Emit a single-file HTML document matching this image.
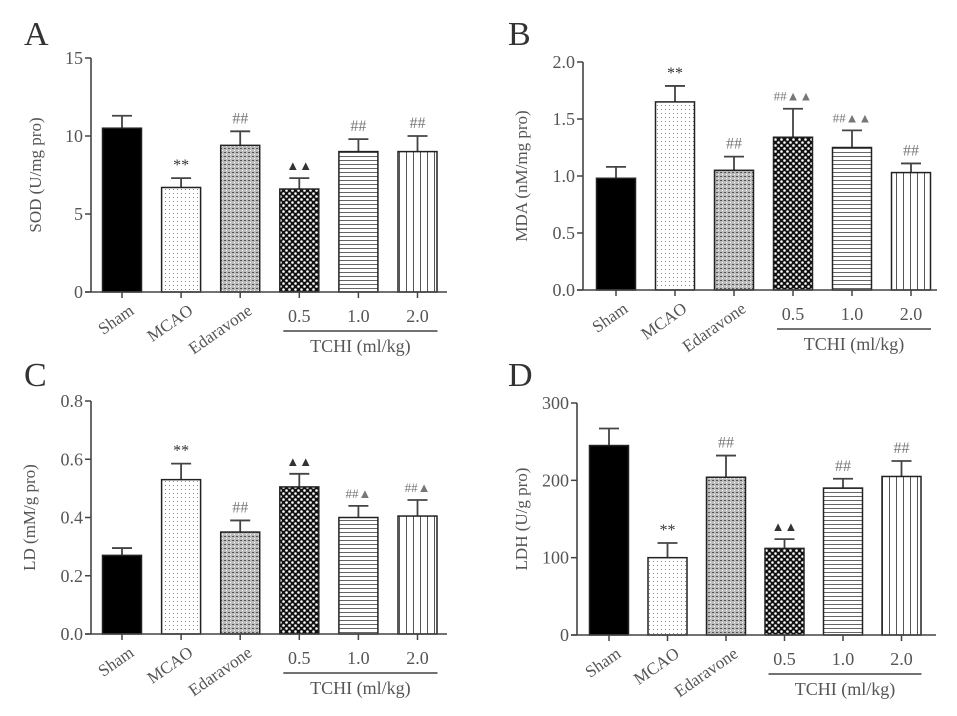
<!DOCTYPE html>
<html><head><meta charset="utf-8"><style>
html,body{margin:0;padding:0;background:#fff;}
svg{display:block;font-family:"Liberation Serif",serif;}
</style></head><body>
<svg id="fig" width="957" height="716" viewBox="0 0 957 716">
<defs>
<pattern id="pMCAO" width="4" height="4" patternUnits="userSpaceOnUse"><rect width="4" height="4" fill="#fff"/><rect x="1" y="1" width="1" height="1" fill="#888"/></pattern>
<pattern id="pEda" width="4" height="4" patternUnits="userSpaceOnUse"><rect width="4" height="4" fill="#bbb"/><rect x="0" y="0" width="2" height="1" fill="#555"/><rect x="2" y="2" width="1" height="1" fill="#fff"/></pattern>
<pattern id="pDot" width="6" height="6" patternUnits="userSpaceOnUse"><rect width="6" height="6" fill="#111"/><circle cx="1.5" cy="1.5" r="1.3" fill="#fff"/><circle cx="4.5" cy="4.5" r="1.3" fill="#fff"/></pattern>
<pattern id="pH" width="4" height="4" patternUnits="userSpaceOnUse"><rect width="4" height="4" fill="#fff"/><rect y="0" width="4" height="1" fill="#666"/></pattern>
<pattern id="pV" width="7" height="7" patternUnits="userSpaceOnUse"><rect width="7" height="7" fill="#fff"/><rect x="0" width="1" height="7" fill="#555"/></pattern>
</defs>
</svg>
<script>
const categories = ["Sham","MCAO","Edaravone","0.5","1.0","2.0"];
const sodValues = [10.5,6.7,9.4,6.6,9.0,9.0];
const sodErrors = [0.8,0.6,0.9,0.7,0.8,1.0];
const sodSig = ["","**","##","▲▲","##","##"];
const sodTicks = ["0","5","10","15"];
const mdaValues = [0.98,1.65,1.05,1.34,1.25,1.03];
const mdaErrors = [0.1,0.14,0.12,0.25,0.15,0.08];
const mdaSig = ["","**","##","##▲▲","##▲▲","##"];
const mdaTicks = ["0.0","0.5","1.0","1.5","2.0"];
const ldValues = [0.27,0.53,0.35,0.505,0.40,0.405];
const ldErrors = [0.025,0.055,0.04,0.045,0.04,0.055];
const ldSig = ["","**","##","▲▲","##▲","##▲"];
const ldTicks = ["0.0","0.2","0.4","0.6","0.8"];
const ldhValues = [245,100,204,112,190,205];
const ldhErrors = [22,19,28,12,12,20];
const ldhSig = ["","**","##","▲▲","##","##"];
const ldhTicks = ["0","100","200","300"];

const fills = ["#000","url(#pMCAO)","url(#pEda)","url(#pDot)","url(#pH)","url(#pV)"];
const NS = "http://www.w3.org/2000/svg";
const svg = document.getElementById("fig");
function mk(tag, attrs, parent, txt){
  const e = document.createElementNS(NS, tag);
  for (const k in attrs) e.setAttribute(k, attrs[k]);
  if (txt !== undefined) e.textContent = txt;
  (parent||svg).appendChild(e);
  return e;
}
function panel(id, letter, lx, ly, ax, top, bot, endX, x0, step, max, ticks, title, vals, errs, sig){
  const g = mk("g", {});
  
  
  const y = v => bot - (v / max) * (bot - top);
  const xc = i => x0 + i * step;
  const L = mk("text", {x:lx, y:ly, "font-size":34, fill:"#333"}, g, letter);
  
  
  vals.forEach((v,i) => {
    const bw = 39, yy = y(v), ye = y(v + errs[i]);
    const eb = mk("line", {x1:xc(i), x2:xc(i), y1:yy, y2:ye, stroke:"#444", "stroke-width":1.8}, g);
    
    
    const cap = mk("line", {x1:xc(i)-10, x2:xc(i)+10, y1:ye, y2:ye, stroke:"#444", "stroke-width":1.8}, g);
    
    
    const r = mk("rect", {x:xc(i)-bw/2, y:yy, width:bw, height:bot-yy, fill:fills[i], stroke:"#222", "stroke-width":1.5}, g);
    
    
    if (sig[i]) {
      const s = mk("text", {x:xc(i), y:ye-8, "font-size":sig[i].includes("▲")?13:16, "text-anchor":"middle", fill:sig[i].startsWith("*")||sig[i].startsWith("▲")?"#333":"#777"}, g, sig[i]);
      
      
    }
    const tk = mk("line", {x1:xc(i), x2:xc(i), y1:bot, y2:bot+6, stroke:"#444", "stroke-width":1.5}, g);
    
    
    let lab;
    if (i < 3) {
      lab = mk("text", {x:xc(i)+13, y:bot+21, "font-size":17, "text-anchor":"end", fill:"#555", transform:`rotate(-35 ${xc(i)+13} ${bot+21})`}, g, categories[i]);
    } else {
      lab = mk("text", {x:xc(i), y:bot+30, "font-size":18, "text-anchor":"middle", fill:"#555"}, g, categories[i]);
    }
    
    
  });
  const ya = mk("line", {x1:ax, x2:ax, y1:top, y2:bot, stroke:"#444", "stroke-width":1.6}, g);
  
  
  const xa = mk("line", {x1:ax-6, x2:endX, y1:bot, y2:bot, stroke:"#444", "stroke-width":1.6}, g);
  
  
  ticks.forEach(t => {
    const yy = y(parseFloat(t));
    const tl = mk("line", {x1:ax-6, x2:ax, y1:yy, y2:yy, stroke:"#444", "stroke-width":1.5}, g);
    
    
    const tt = mk("text", {x:ax-8, y:yy+6, "font-size":18, "text-anchor":"end", fill:"#555"}, g, t);
    
    
  });
  const tx = ax - (ticks[0].length > 1 ? 56 : 50), ty = (top + bot) / 2;
  const yt = mk("text", {x:tx, y:ty, "font-size":17, "text-anchor":"middle", fill:"#555", transform:`rotate(-90 ${tx} ${ty})`}, g, title);
  
  
  const gl = mk("line", {x1:xc(3)-16, x2:xc(5)+20, y1:bot+39, y2:bot+39, stroke:"#444", "stroke-width":1.5}, g);
  
  
  const gt = mk("text", {x:(xc(3)+xc(5))/2+2, y:bot+60, "font-size":18, "text-anchor":"middle", fill:"#555"}, g, "TCHI (ml/kg)");
  
  
}
panel("a","A",24,45,91,58,292,447,122,59.1,15,sodTicks,"SOD (U/mg pro)",sodValues,sodErrors,sodSig);
panel("b","B",508,45,583,62,290,937,616,59,2.0,mdaTicks,"MDA (nM/mg pro)",mdaValues,mdaErrors,mdaSig);
panel("c","C",24,386,91,401,634,447,122,59.1,0.8,ldTicks,"LD (mM/g pro)",ldValues,ldErrors,ldSig);
panel("d","D",508,386,577,403,635,936,609,58.5,300,ldhTicks,"LDH (U/g pro)",ldhValues,ldhErrors,ldhSig);
</script>
</body></html>
